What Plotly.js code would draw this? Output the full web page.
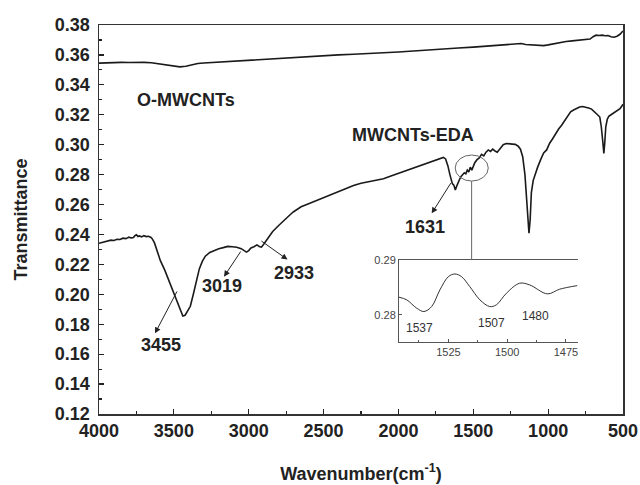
<!DOCTYPE html>
<html>
<head>
<meta charset="utf-8">
<script src="https://cdn.plot.ly/plotly-3.0.1.min.js"></script>
<style>html,body{margin:0;padding:0;background:#fff;}#chart{width:640px;height:485px;}</style>
</head>
<body>
<div id="chart"></div>
<script>
// MWCNTs-EDA spectrum
const edaWn = [4000,3960,3940,3920,3900,3880,3860,3840,3820,3800,3785,3770,3760,3750,3740,3730,3715,3700,3685,3670,3655,3645,3630,3610,3590,3560,3530,3500,3470,3450,3440,3425,3410,3390,3370,3350,3330,3310,3290,3260,3230,3200,3170,3140,3110,3080,3050,3030,3015,3000,2985,2965,2945,2930,2915,2900,2880,2860,2840,2800,2760,2720,2700,2650,2600,2550,2500,2450,2400,2350,2300,2250,2200,2150,2100,2050,2000,1950,1900,1850,1800,1760,1720,1700,1685,1670,1655,1640,1630,1620,1610,1600,1590,1580,1570,1560,1550,1540,1530,1520,1510,1500,1490,1475,1460,1445,1430,1415,1400,1385,1370,1355,1340,1320,1300,1280,1260,1240,1220,1200,1185,1170,1155,1145,1135,1128,1120,1112,1100,1085,1070,1050,1030,1010,990,970,950,930,910,890,870,850,830,810,790,770,750,730,710,690,670,655,645,635,628,622,615,605,595,580,565,550,535,520,505,500];
const edaT = [0.2341,0.2350,0.2356,0.2362,0.2360,0.2368,0.2366,0.2375,0.2372,0.2382,0.2377,0.2379,0.2392,0.2398,0.2386,0.2390,0.2384,0.2392,0.2386,0.2388,0.2382,0.2372,0.2345,0.2290,0.2225,0.2160,0.2085,0.2010,0.1935,0.1880,0.1855,0.1860,0.1885,0.1920,0.2000,0.2090,0.2170,0.2220,0.2255,0.2280,0.2295,0.2305,0.2312,0.2320,0.2318,0.2315,0.2305,0.2295,0.2282,0.2292,0.2310,0.2318,0.2330,0.2320,0.2315,0.2335,0.2365,0.2395,0.2420,0.2460,0.2500,0.2535,0.2552,0.2585,0.2605,0.2625,0.2645,0.2665,0.2690,0.2710,0.2728,0.2742,0.2752,0.2760,0.2772,0.2790,0.2808,0.2828,0.2845,0.2862,0.2880,0.2895,0.2908,0.2915,0.2905,0.2860,0.2795,0.2740,0.2730,0.2697,0.2725,0.2755,0.2772,0.2790,0.2800,0.2812,0.2805,0.2830,0.2818,0.2850,0.2830,0.2858,0.2880,0.2900,0.2912,0.2935,0.2925,0.2950,0.2965,0.2955,0.2970,0.2958,0.2950,0.2975,0.3000,0.3008,0.3008,0.3004,0.3002,0.2990,0.2970,0.2920,0.2800,0.2650,0.2500,0.2408,0.2500,0.2680,0.2760,0.2810,0.2850,0.2900,0.2945,0.2965,0.3010,0.3040,0.3075,0.3105,0.3130,0.3160,0.3190,0.3220,0.3232,0.3245,0.3252,0.3255,0.3252,0.3245,0.3238,0.3222,0.3200,0.3185,0.3120,0.3020,0.2942,0.3010,0.3120,0.3170,0.3190,0.3200,0.3210,0.3220,0.3225,0.3240,0.3262,0.3270];

// O-MWCNTs spectrum
const oWn = [4000,3950,3900,3850,3800,3750,3700,3650,3600,3550,3500,3460,3420,3380,3340,3300,3200,3100,3000,2900,2800,2700,2600,2500,2400,2300,2200,2100,2000,1900,1800,1700,1600,1500,1400,1300,1220,1180,1150,1100,1060,1030,1000,960,920,880,840,800,760,720,700,680,660,640,620,600,580,560,540,520,505,500];
const oT = [0.3545,0.3548,0.3546,0.3550,0.3549,0.3551,0.3550,0.3548,0.3540,0.3530,0.3524,0.3520,0.3524,0.3534,0.3543,0.3546,0.3552,0.3558,0.3565,0.3573,0.3580,0.3586,0.3590,0.3597,0.3600,0.3604,0.3608,0.3614,0.3620,0.3626,0.3634,0.3640,0.3646,0.3652,0.3660,0.3666,0.3672,0.3676,0.3670,0.3668,0.3664,0.3662,0.3667,0.3676,0.3685,0.3690,0.3694,0.3698,0.3703,0.3706,0.3722,0.3732,0.3730,0.3732,0.3728,0.3730,0.3722,0.3718,0.3725,0.3738,0.3755,0.3760];

// Inset (zoom of 1546-1470 region)
const insetWn = [1546,1542.7,1538.5,1535.4,1532.1,1528.6,1525,1522.2,1519.4,1515.9,1511.6,1507.4,1504.6,1500.3,1494.7,1490.4,1482.9,1477.7,1470.2];
const insetT = [0.28322,0.28273,0.28122,0.2806,0.28151,0.28455,0.28696,0.28745,0.28696,0.28515,0.28273,0.28151,0.28182,0.28395,0.28576,0.28545,0.28382,0.28467,0.28533];

const mainXTicks = [4000,3500,3000,2500,2000,1500,1000,500];
const mainYTicks = [0.12,0.14,0.16,0.18,0.20,0.22,0.24,0.26,0.28,0.30,0.32,0.34,0.36,0.38];
const insetXTicks = [1525,1500,1475];
const insetYTicks = [0.28,0.29];

const bold = {family:'Liberation Sans, Arial, sans-serif', size:18, color:'#222', weight:'bold'};
const lab = {family:'Liberation Sans, Arial, sans-serif', size:18, color:'#222', weight:'bold'};
const small = {family:'Liberation Sans, Arial, sans-serif', size:11, color:'#444'};
const smallLab = {family:'Liberation Sans, Arial, sans-serif', size:12, color:'#333'};

const traces = [
  {x:oWn, y:oT, type:'scatter', mode:'lines', line:{color:'#1a1a1a', width:1.6}, xaxis:'x', yaxis:'y', hoverinfo:'skip'},
  {x:edaWn, y:edaT, type:'scatter', mode:'lines', line:{color:'#1a1a1a', width:1.6}, xaxis:'x', yaxis:'y', hoverinfo:'skip'},
  {x:insetWn, y:insetT, type:'scatter', mode:'lines', line:{color:'#333', width:1, shape:'spline'}, xaxis:'x2', yaxis:'y2', hoverinfo:'skip'}
];

function arrow(hx, hy, tx, ty){
  return {x:hx, y:hy, ax:tx, ay:ty, xref:'x', yref:'y', axref:'x', ayref:'y', text:'', showarrow:true,
    arrowhead:2, arrowsize:1.2, arrowwidth:1, arrowcolor:'#222'};
}
function label(x, y, t, f, xr, yr){
  return {x:x, y:y, xref:xr||'x', yref:yr||'y', text:t, showarrow:false, font:f};
}

const layout = {
  width:640, height:485,
  margin:{l:99, r:17, t:25, b:71},
  paper_bgcolor:'#fff', plot_bgcolor:'#fff',
  showlegend:false,
  xaxis:{range:[4000,500], tickvals:mainXTicks, ticks:'inside', ticklen:5, tickwidth:1.2, tickcolor:'#222',
    minor:{tickvals:[3750,3250,2750,2250,1750,1250,750], ticks:'inside', ticklen:3, tickwidth:1.2, tickcolor:'#222'},
    showline:true, linecolor:'#333', linewidth:1.5, mirror:true, showgrid:false, zeroline:false,
    tickfont:bold, title:{text:'Wavenumber(cm<sup>-1</sup>)', font:bold, standoff:27}},
  yaxis:{range:[0.12,0.38], tickvals:mainYTicks, tickformat:'.2f', ticks:'inside', ticklen:5, tickwidth:1.2, tickcolor:'#222',
    minor:{tickvals:[0.13,0.15,0.17,0.19,0.21,0.23,0.25,0.27,0.29,0.31,0.33,0.35,0.37], ticks:'inside', ticklen:3, tickwidth:1.2, tickcolor:'#222'},
    showline:true, linecolor:'#333', linewidth:1.5, mirror:true, showgrid:false, zeroline:false, ticklabelstandoff:4,
    tickfont:bold, title:{text:'Transmittance', font:bold, standoff:22}},
  xaxis2:{domain:[0.5725,0.9136], anchor:'y2', range:[1546,1470], tickvals:insetXTicks, ticks:'inside', ticklen:3, tickcolor:'#555',
    minor:{tickvals:[1537.5,1512.5,1487.5], ticks:'inside', ticklen:2, tickcolor:'#555'},
    showline:true, linecolor:'#555', linewidth:1, mirror:true, showgrid:false, zeroline:false, tickfont:small},
  yaxis2:{domain:[0.1859,0.3959], anchor:'x2', range:[0.2751,0.29], tickvals:insetYTicks, tickformat:'.2f', ticks:'inside', ticklen:3, tickcolor:'#555',
    showline:true, linecolor:'#555', linewidth:1, mirror:false, showgrid:false, zeroline:false, tickfont:small, ticklabelstandoff:0},
  shapes:[
    {type:'circle', xref:'x', yref:'y', x0:1621, x1:1400, y0:0.2757, y1:0.2931, line:{color:'#666', width:1}},
    {type:'line', xref:'x', yref:'y', x0:1511, x1:1511, y0:0.2757, y1:0.2229, line:{color:'#666', width:1}}
  ],
  annotations:[
    arrow(3626,0.1739,3474,0.2029),
    arrow(3165,0.2118,3047,0.2296),
    arrow(2741,0.2232,2925,0.2363),
    arrow(1778,0.2541,1644,0.2753),
    label(3419,0.3299,'O-MWCNTs',lab),
    label(1903,0.3065,'MWCNTs-EDA',lab),
    label(1822,0.2450,'1631',lab),
    label(3586,0.1661,'3455',lab),
    label(3178,0.2055,'3019',lab),
    label(2698,0.2142,'2933',lab),
    label(1537.1,0.27764,'1537',smallLab,'x2','y2'),
    label(1506.6,0.27855,'1507',smallLab,'x2','y2'),
    label(1487.8,0.2798,'1480',smallLab,'x2','y2')
  ]
};

Plotly.newPlot('chart', traces, layout, {staticPlot:true, displayModeBar:false});
</script>
</body>
</html>
